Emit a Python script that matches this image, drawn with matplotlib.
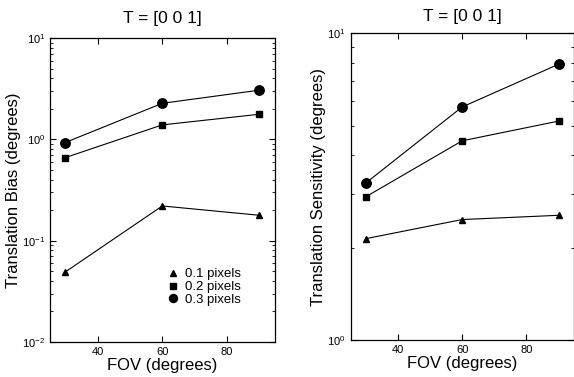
import matplotlib
matplotlib.use("Agg")
import matplotlib.pyplot as plt
from matplotlib.ticker import LogLocator, NullFormatter
from matplotlib.lines import Line2D

plt.rcParams['font.family'] = ['Liberation Sans', 'DejaVu Sans']
plt.rcParams['mathtext.fontset'] = 'custom'
plt.rcParams['mathtext.rm'] = 'Liberation Sans'
plt.rcParams['mathtext.it'] = 'Liberation Sans'

fov = [30, 60, 90]
labels = ['0.1 pixels', '0.2 pixels', '0.3 pixels']
markers = ['^', 's', 'o']
msizes = [5.0, 4.8, 6.8]

bias_01 = [0.049, 0.22, 0.178]
bias_02 = [0.66, 1.39, 1.77]
bias_03 = [0.93, 2.27, 3.06]

sens_01 = [2.14, 2.47, 2.55]
sens_02 = [2.93, 4.46, 5.17]
sens_03 = [3.25, 5.75, 7.92]

title = 'T = [0 0 1]'
xlabel = 'FOV (degrees)'
xticks = [40, 60, 80]

fig = plt.figure(figsize=(5.74, 3.77), dpi=100)
ax1 = fig.add_axes([0.087, 0.093, 0.392, 0.806])
ax2 = fig.add_axes([0.611, 0.098, 0.389, 0.814])

def style(ax, ylim, ylabel, pad):
    ax.set_yscale('log')
    ax.set_xlim(25.3, 94.8)
    ax.set_ylim(*ylim)
    ax.set_xticks(xticks)
    ax.yaxis.set_major_locator(LogLocator(base=10))
    ax.yaxis.set_minor_locator(LogLocator(base=10, subs=range(2, 10)))
    ax.yaxis.set_minor_formatter(NullFormatter())
    ax.tick_params(which='both', direction='in', top=True, right=True, labelsize=8)
    ax.tick_params(which='major', length=4, width=0.8)
    ax.tick_params(which='minor', length=2, width=0.6)
    ax.set_title(title, fontsize=12.5, pad=pad)
    ax.set_xlabel(xlabel, fontsize=12, labelpad=1)
    ax.set_ylabel(ylabel, fontsize=12, labelpad=1)
    for s in ax.spines.values():
        s.set_linewidth(0.9)

for ys, m, ms, lab in zip([bias_01, bias_02, bias_03], markers, msizes, labels):
    ax1.plot(fov, ys, color='black', lw=0.8, marker=m, ms=ms, label=lab)
for ys, m, ms, lab in zip([sens_01, sens_02, sens_03], markers, msizes, labels):
    ax2.plot(fov, ys, color='black', lw=0.8, marker=m, ms=ms, label=lab)

style(ax1, (0.01, 10), 'Translation Bias (degrees)', 11)
style(ax2, (1, 10), 'Translation Sensitivity (degrees)', 9)

hh = [Line2D([], [], ls='none', marker=m, ms=ms * 0.85, color='black') for m, ms in zip(markers, msizes)]
ax1.legend(hh, labels, loc='upper left', bbox_to_anchor=(0.49, 0.265), frameon=False,
           fontsize=9.5, handlelength=1.0, handletextpad=0.4, labelspacing=0.05,
           borderpad=0)

fig.savefig('out.png', dpi=100)
